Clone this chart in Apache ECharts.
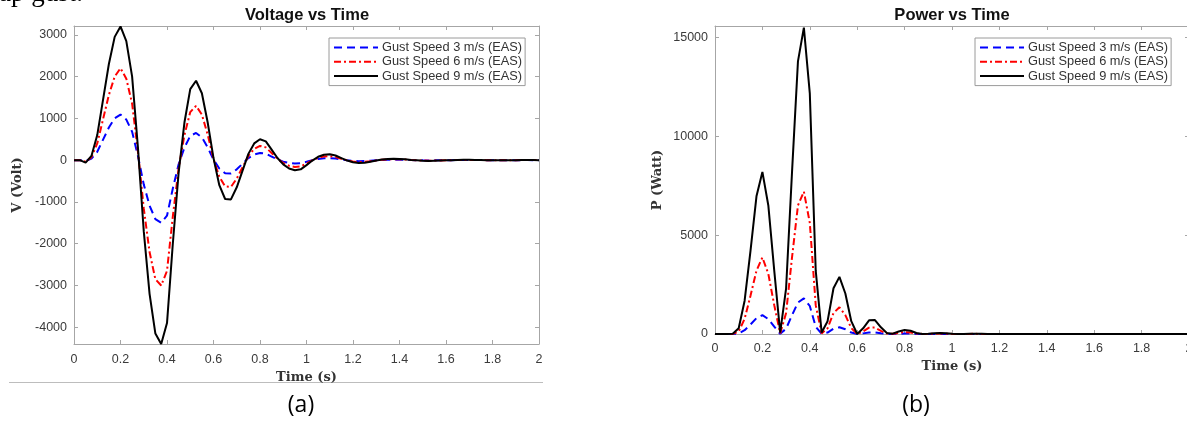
<!DOCTYPE html>
<html><head><meta charset="utf-8">
<script src="https://cdn.jsdelivr.net/npm/echarts@6/dist/echarts.min.js"></script>
<style>html,body{margin:0;padding:0;background:#fff}#c{width:1187px;height:423px}</style>
</head><body><div id="c"></div>
<script>
const seriesNames = ['Gust Speed 3 m/s (EAS)', 'Gust Speed 6 m/s (EAS)', 'Gust Speed 9 m/s (EAS)'];
const time = [
0,0.025,0.05,0.075,0.1,0.125,0.15,0.175,0.2,0.225,
0.25,0.275,0.3,0.325,0.35,0.375,0.4,0.425,0.45,0.475,
0.5,0.525,0.55,0.575,0.6,0.625,0.65,0.675,0.7,0.725,
0.75,0.775,0.8,0.825,0.85,0.875,0.9,0.925,0.95,0.975,
1,1.025,1.05,1.075,1.1,1.125,1.15,1.175,1.2,1.225,
1.25,1.275,1.3,1.325,1.35,1.375,1.4,1.425,1.45,1.475,
1.5,1.525,1.55,1.575,1.6,1.625,1.65,1.675,1.7,1.725,
1.75,1.775,1.8,1.825,1.85,1.875,1.9,1.925,1.95,1.975,
2];
const voltage3 = [
0,0,-20,35,200,490,780,1000,1090,970,
680,100,-580,-1090,-1410,-1500,-1330,-680,-100,300,
580,650,545,305,15,-200,-315,-320,-220,-85,
50,135,170,155,85,17,-35,-68,-82,-75,
-40,-3,27,44,48,37,17,-3,-17,-24,
-20,-14,-3,5,10,12,10,7,2,-2,
-5,-7,-5,-3,-2,0,2,3,3,2,
1,0,-1,-1,-1,-1,0,0,1,0,
0];
const voltage6 = [
0,0,-40,70,400,980,1560,2000,2200,1950,
1350,200,-1150,-2200,-2850,-3000,-2650,-1350,-200,600,
1150,1300,1090,610,30,-400,-630,-640,-440,-170,
100,270,340,305,170,35,-70,-135,-165,-150,
-80,-7,55,90,95,75,35,-7,-35,-48,
-40,-27,-7,10,20,24,20,14,3,-3,
-10,-14,-10,-7,-3,0,3,5,5,4,
2,0,-2,-3,-2,-1,0,1,1,1,
0];
const voltage9 = [
0,0,-60,100,600,1450,2300,2950,3200,2850,
2000,300,-1700,-3200,-4150,-4400,-3900,-2000,-300,900,
1700,1900,1600,900,50,-600,-930,-940,-650,-250,
150,400,500,450,250,50,-100,-200,-240,-220,
-120,-10,80,130,140,110,50,-10,-50,-70,
-60,-40,-10,15,30,35,30,20,5,-5,
-15,-20,-15,-10,-5,0,5,8,8,6,
3,0,-3,-4,-3,-2,0,1,2,1,
0];
const power3 = [
0,0,0,1,32,192,487,800,950,753,
370,8,269,950,1590,1800,1415,370,8,72,
269,338,238,74,0,32,79,82,39,6,
2,15,23,19,6,0,1,4,5,5,
1,0,0,0,0,0,0,0,0,0,
0,0,0,0,0,0,0,0,0,0,
0,0,0,0,0,0,0,0,0,0,
0,0,0,0,0,0,0,0,0,0,
0];
const power6 = [
0,0,1,4,128,768,1947,3200,3872,3042,
1458,32,1058,3872,6498,7200,5618,1458,32,288,
1058,1352,950,298,1,128,318,328,155,23,
8,58,92,74,23,1,4,15,22,18,
5,0,2,6,7,5,1,0,1,2,
1,1,0,0,0,0,0,0,0,0,
0,0,0,0,0,0,0,0,0,0,
0,0,0,0,0,0,0,0,0,0,
0];
const power9 = [
0,0,3,8,288,1682,4232,6962,8192,6498,
3200,72,2312,8192,13778,15488,12168,3200,72,648,
2312,2888,2048,648,2,288,692,707,338,50,
18,128,200,162,50,2,8,32,46,39,
12,0,5,14,16,10,2,0,2,4,
3,1,0,0,1,1,1,0,0,0,
0,0,0,0,0,0,0,0,0,0,
0,0,0,0,0,0,0,0,0,0,
0];
const timeTicks = [0,0.2,0.4,0.6,0.8,1,1.2,1.4,1.6,1.8,2];
const voltageTicks = [-4000,-3000,-2000,-1000,0,1000,2000,3000];
const powerTicks = [0,5000,10000,15000];

const AX = '#a6a6a6', LAB = '#3a3a3a';
const chart = echarts.init(document.getElementById('c'));
const pairs = ys => time.map((t, i) => [t, ys[i]]);
const fmt = v => String(Math.round(v * 10) / 10);
const fmtY = v => String(Math.round(v));
const nameStyle = {fontFamily: 'DejaVu Serif', fontWeight: 'bold', fontSize: 13, color: '#333'};

function xAxisMain(gi, gap, margin) {
  return {type: 'value', gridIndex: gi, min: 0, max: 2, position: 'bottom',
    axisLine: {show: true, onZero: false, lineStyle: {color: AX}},
    axisTick: {show: true, inside: true, length: 4, customValues: timeTicks, lineStyle: {color: AX}},
    axisLabel: {show: true, customValues: timeTicks, formatter: fmt, color: LAB, fontSize: 12.5, fontFamily: 'Liberation Sans', margin: margin},
    splitLine: {show: false},
    name: 'Time (s)', nameLocation: 'middle', nameGap: gap, nameTextStyle: nameStyle};
}
function xAxisTop(gi) {
  return {type: 'value', gridIndex: gi, min: 0, max: 2, position: 'top',
    axisLine: {show: true, onZero: false, lineStyle: {color: AX}},
    axisTick: {show: true, inside: true, length: 4, customValues: timeTicks, lineStyle: {color: AX}},
    axisLabel: {show: false}, splitLine: {show: false}};
}
function yAxisMain(gi, min, max, ticks, name, gap) {
  return {type: 'value', gridIndex: gi, min: min, max: max, position: 'left',
    axisLine: {show: true, onZero: false, lineStyle: {color: AX}},
    axisTick: {show: true, inside: true, length: 4, customValues: ticks, lineStyle: {color: AX}},
    axisLabel: {show: true, customValues: ticks, formatter: fmtY, color: LAB, fontSize: 12.5, fontFamily: 'Liberation Sans', margin: 7},
    splitLine: {show: false},
    name: name, nameLocation: 'middle', nameGap: gap, nameTextStyle: nameStyle};
}
function yAxisRight(gi, min, max, ticks) {
  return {type: 'value', gridIndex: gi, min: min, max: max, position: 'right',
    axisLine: {show: true, onZero: false, lineStyle: {color: AX}},
    axisTick: {show: true, inside: true, length: 4, customValues: ticks, lineStyle: {color: AX}},
    axisLabel: {show: false}, splitLine: {show: false}};
}
const styles = [
  {color: '#0000ff', width: 2, type: [8, 5]},
  {color: '#ff0000', width: 2, type: [7, 3, 2, 3]},
  {color: '#000000', width: 2, type: 'solid'}
];
function mk(name, data, xi, yi, st) {
  return {type: 'line', name: name, xAxisIndex: xi, yAxisIndex: yi, data: pairs(data),
    symbol: 'none', showSymbol: false, lineStyle: st, itemStyle: {color: st.color},
    emphasis: {disabled: true}, z: 2};
}
function legend(left, top) {
  return {data: seriesNames, orient: 'vertical', left: left, top: top,
    itemWidth: 44, itemHeight: 14, itemGap: 1.3, padding: [3, 3, 3, 4],
    borderColor: '#9a9a9a', borderWidth: 1, backgroundColor: '#fff',
    itemStyle: {opacity: 0},
    textStyle: {fontFamily: 'Liberation Sans', fontSize: 12.8, color: '#333', padding: [0, 0, 0, -1]},
    selectedMode: false};
}

chart.setOption({
  animation: false,
  backgroundColor: '#fff',
  grid: [
    {left: 74, width: 465, top: 26, height: 318, containLabel: false, outerBoundsMode: 'none'},
    {left: 715, width: 474, top: 26, height: 308, containLabel: false, outerBoundsMode: 'none'}
  ],
  xAxis: [xAxisMain(0, 26, 9), xAxisTop(0), xAxisMain(1, 17, 8), xAxisTop(1)],
  yAxis: [yAxisMain(0, -4400, 3210, voltageTicks, 'V (Volt)', 50), yAxisRight(0, -4400, 3210, voltageTicks),
          yAxisMain(1, 0, 15570, powerTicks, 'P (Watt)', 51), yAxisRight(1, 0, 15570, powerTicks)],
  legend: [legend(329, 38), legend(975, 38)],
  series: [
    mk(seriesNames[0], voltage3, 0, 0, styles[0]),
    mk(seriesNames[1], voltage6, 0, 0, styles[1]),
    mk(seriesNames[2], voltage9, 0, 0, styles[2]),
    mk(seriesNames[0], power3, 2, 2, styles[0]),
    mk(seriesNames[1], power6, 2, 2, styles[1]),
    mk(seriesNames[2], power9, 2, 2, styles[2])
  ],
  graphic: [
    {type: 'text', left: -1, top: -20, style: {text: 'ap gust.', font: '27px "Liberation Serif"', fill: '#000'}},
    {type: 'text', x: 307, y: 15.5, style: {text: 'Voltage vs Time', font: 'bold 16.5px "Liberation Sans"', fill: '#111', align: 'center', verticalAlign: 'middle'}},
    {type: 'text', x: 952, y: 15.5, style: {text: 'Power vs Time', font: 'bold 16.5px "Liberation Sans"', fill: '#111', align: 'center', verticalAlign: 'middle'}},
    {type: 'line', shape: {x1: 9, y1: 382.5, x2: 543, y2: 382.5}, style: {stroke: '#bdbdbd', lineWidth: 1}},
    {type: 'text', x: 301, y: 405, style: {text: '(a)', font: '23px "Open Sans"', fill: '#000', align: 'center', verticalAlign: 'middle'}},
    {type: 'text', x: 916, y: 405, style: {text: '(b)', font: '23px "Open Sans"', fill: '#000', align: 'center', verticalAlign: 'middle'}}
  ]
});
</script></body></html>
